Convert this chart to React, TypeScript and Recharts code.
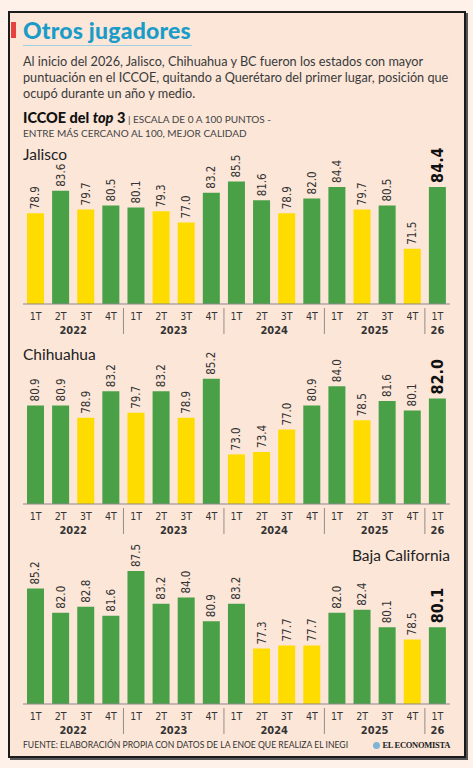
import React from 'react';
import { BarChart, Bar, Cell, XAxis, YAxis, LabelList } from 'recharts';

const quarters = ['1T', '2T', '3T', '4T', '1T', '2T', '3T', '4T', '1T', '2T', '3T', '4T', '1T', '2T', '3T', '4T', '1T'];
const years = ['2022', '2023', '2024', '2025', '26'];

const jalisco = [78.9, 83.6, 79.7, 80.5, 80.1, 79.3, 77.0, 83.2, 85.5, 81.6, 78.9, 82.0, 84.4, 79.7, 80.5, 71.5, 84.4];
const chihuahua = [80.9, 80.9, 78.9, 83.2, 79.7, 83.2, 78.9, 85.2, 73.0, 73.4, 77.0, 80.9, 84.0, 78.5, 81.6, 80.1, 82.0];
const bajaCalifornia = [85.2, 82.0, 82.8, 81.6, 87.5, 83.2, 84.0, 80.9, 83.2, 77.3, 77.7, 77.7, 82.0, 82.4, 80.1, 78.5, 80.1];

const GREEN = '#4aa047';
const YELLOW = '#ffdc00';
const THRESHOLD = 80;

const W = 473;
const M_LEFT = 23;
const M_RIGHT = 23;
const M_TOP = 25;
const AXIS_H = 36;
const BAND = (W - M_LEFT - M_RIGHT) / quarters.length;
const NARROW = '"Liberation Sans Narrow", "DejaVu Sans Condensed", "Roboto", sans-serif';
const BODY = 'Lato, "Noto Sans", sans-serif';

function QuarterTick(props: any) {
  const { x, y, payload } = props;
  const i: number = payload.index ?? props.index;
  const items: React.ReactNode[] = [];
  items.push(
    <text key="q" x={x} y={y + 14} textAnchor="middle" fontSize={10.5} fontFamily={NARROW} fill="#333">
      {payload.value}
    </text>
  );
  if (i > 0 && i % 4 === 0) {
    items.push(<line key="sep" x1={x - BAND / 2} x2={x - BAND / 2} y1={y + 2} y2={y + 28} stroke="#777" strokeWidth={0.8} />);
  }
  if (i % 4 === 1 && i < 16) {
    items.push(
      <text key="y" x={x + BAND / 2} y={y + 28} textAnchor="middle" fontSize={11} fontWeight={700} fontFamily={NARROW} fill="#333">
        {years[Math.floor(i / 4)]}
      </text>
    );
  }
  if (i === 16) {
    items.push(
      <text key="y" x={x} y={y + 28} textAnchor="middle" fontSize={11} fontWeight={700} fontFamily={NARROW} fill="#333">
        {years[4]}
      </text>
    );
  }
  return <g>{items}</g>;
}

function ValueLabel(props: any) {
  const { x, y, width, value, index } = props;
  const cx = x + width / 2;
  const cy = y - 4;
  const last = index === quarters.length - 1;
  return (
    <text
      x={cx}
      y={cy}
      transform={`rotate(-90, ${cx}, ${cy})`}
      textAnchor="start"
      dominantBaseline="central"
      fontFamily={NARROW}
      fontSize={last ? 16 : 11.5}
      fontWeight={last ? 700 : 400}
      fill={last ? '#111' : '#333'}
    >
      {Number(value).toFixed(1)}
    </text>
  );
}

// plotTop: page y of the top of the value domain
function StateChart({ values, domain, plotTop, plotHeight }: { values: number[]; domain: [number, number]; plotTop: number; plotHeight: number }) {
  const data = quarters.map((q, i) => ({ q, v: values[i] }));
  const height = M_TOP + plotHeight + AXIS_H;
  return (
    <div style={{ position: 'absolute', left: 0, top: plotTop - M_TOP }}>
      <BarChart width={W} height={height} data={data} margin={{ top: M_TOP, right: M_RIGHT, left: M_LEFT, bottom: 0 }}>
        <XAxis
          dataKey="q"
          interval={0}
          height={AXIS_H}
          tickLine={false}
          tickSize={0}
          axisLine={{ stroke: '#8a8a8a', strokeWidth: 1 }}
          tick={<QuarterTick />}
        />
        <YAxis hide domain={domain} allowDataOverflow />
        <Bar dataKey="v" barSize={17} isAnimationActive={false}>
          {values.map((v, i) => (
            <Cell key={`c-${i}`} fill={v >= THRESHOLD ? GREEN : YELLOW} />
          ))}
          <LabelList dataKey="v" content={<ValueLabel />} />
        </Bar>
      </BarChart>
    </div>
  );
}

export default function App() {
  return (
    <div style={{ position: 'absolute', left: 0, top: 0, width: W, height: 768, background: '#fdf1ea', fontFamily: BODY, color: '#333' }}>
      <div
        style={{
          position: 'absolute',
          left: 8,
          top: 11,
          width: 454,
          height: 743,
          border: '2px solid #1b1b1b',
          background: '#fbe6d8',
          boxShadow: '2px 2px 0 #555',
        }}
      />
      <div style={{ position: 'absolute', left: 11, top: 22, width: 5, height: 16, background: '#e8423e' }} />
      <div style={{ position: 'absolute', left: 23, top: 16, fontSize: 23, fontWeight: 900, color: '#1b9cc8', lineHeight: '28px', letterSpacing: 0.2, whiteSpace: 'nowrap' }}>
        Otros jugadores
      </div>
      <div style={{ position: 'absolute', left: 23, top: 45, width: 169, height: 1, background: '#9fd2e4' }} />
      <div style={{ position: 'absolute', left: 23, top: 53, fontSize: 12.7, lineHeight: '16px', color: '#3a3a3a', whiteSpace: 'nowrap' }}>
        <div>Al inicio del 2026, Jalisco, Chihuahua y BC fueron los estados con mayor</div>
        <div>puntuación en el ICCOE, quitando a Querétaro del primer lugar, posición que</div>
        <div>ocupó durante un año y medio.</div>
      </div>
      <div style={{ position: 'absolute', left: 23, top: 108, lineHeight: '18px', color: '#111', whiteSpace: 'nowrap' }}>
        <span style={{ fontSize: 14.5, fontWeight: 900 }}>
          ICCOE del <i>top</i> 3
        </span>
        <span style={{ fontSize: 10, color: '#444' }}> | ESCALA DE 0 A 100 PUNTOS -</span>
      </div>
      <div style={{ position: 'absolute', left: 23, top: 127, fontSize: 10, lineHeight: '12px', color: '#444', whiteSpace: 'nowrap' }}>
        ENTRE MÁS CERCANO AL 100, MEJOR CALIDAD
      </div>

      <StateChart values={jalisco} domain={[60, 90]} plotTop={160} plotHeight={144} />
      <div style={{ position: 'absolute', left: 23, top: 144, fontSize: 15.5, lineHeight: '20px', color: '#222' }}>Jalisco</div>

      <StateChart values={chihuahua} domain={[65, 90]} plotTop={349} plotHeight={155} />
      <div style={{ position: 'absolute', left: 23, top: 344, fontSize: 15.5, lineHeight: '20px', color: '#222' }}>Chihuahua</div>

      <StateChart values={bajaCalifornia} domain={[70, 90]} plotTop={552} plotHeight={152} />
      <div style={{ position: 'absolute', right: W - 450, top: 545, fontSize: 15.5, lineHeight: '20px', color: '#222' }}>Baja California</div>

      <div style={{ position: 'absolute', left: 23, top: 739, fontSize: 8.6, lineHeight: '12px', color: '#333', whiteSpace: 'nowrap' }}>
        FUENTE: ELABORACIÓN PROPIA CON DATOS DE LA ENOE QUE REALIZA EL INEGI
      </div>
      <div style={{ position: 'absolute', right: W - 450, top: 739, fontSize: 8.5, lineHeight: '12px', color: '#222', fontFamily: '"Liberation Serif", serif', fontWeight: 700, whiteSpace: 'nowrap', letterSpacing: -0.3 }}>
        <span style={{ display: 'inline-block', width: 7, height: 7, borderRadius: 4, background: '#7fb4d6', marginRight: 3, verticalAlign: -0.5 }} />
        EL ECONOMISTA
      </div>
    </div>
  );
}
